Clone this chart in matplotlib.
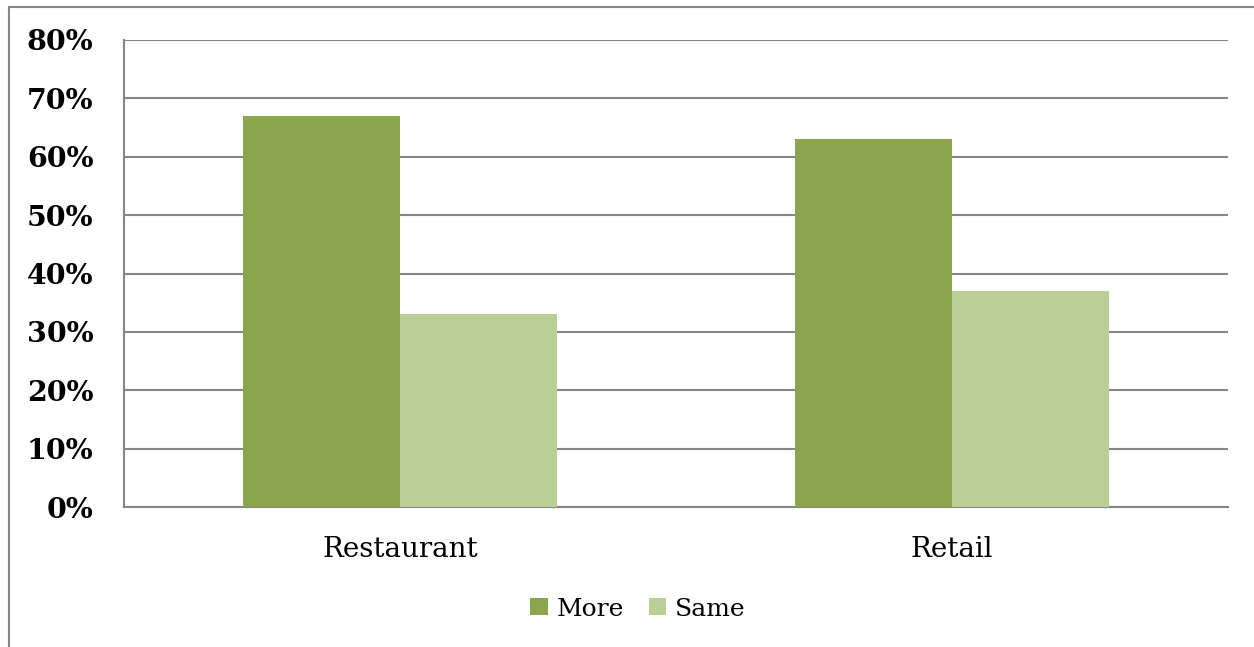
import matplotlib.pyplot as plt
from matplotlib.patches import Rectangle
from matplotlib.ticker import PercentFormatter
import numpy as np

plt.rcParams['font.family'] = ['DejaVu Serif']

# Share of respondents by business type
categories = ['Restaurant', 'Retail']
more = [67, 63]
same = [33, 37]

col_more = '#8AA54C'
col_same = '#BACF96'
grid_col = '#868686'

fig = plt.figure(figsize=(12.54, 6.47), dpi=100)
W, H = 1254, 647

# outer chart frame (runs off the right and bottom edges)
fig.add_artist(Rectangle((9 / W, -0.05), 1.1, 1 - 7 / H + 0.05, transform=fig.transFigure,
                         fill=False, edgecolor=grid_col, linewidth=1.5))

ax = fig.add_axes([124 / W, 1 - 507 / H, (1228 - 124) / W, (507 - 40) / H])

x = np.arange(len(categories))
bw = 0.284
ax.bar(x - bw / 2, more, bw, color=col_more, label='More', zorder=3)
ax.bar(x + bw / 2, same, bw, color=col_same, label='Same', zorder=3)

ax.set_xlim(-0.5, 1.5)
ax.set_ylim(0, 80)
ax.set_yticks(np.arange(0, 81, 10))
ax.yaxis.set_major_formatter(PercentFormatter(decimals=0))
ax.grid(axis='y', color=grid_col, linewidth=1.5, zorder=0)

for side in ['top', 'right']:
    ax.spines[side].set_visible(False)
ax.spines['left'].set_color(grid_col)
ax.spines['left'].set_linewidth(1.5)
ax.spines['bottom'].set_color(grid_col)
ax.spines['bottom'].set_linewidth(1.5)

ax.set_xticks(x)
ax.set_xticklabels(categories, fontsize=20)
ax.tick_params(axis='x', length=0, pad=21)
ax.tick_params(axis='y', length=0, pad=22, labelsize=20.5)
for lbl in ax.get_yticklabels():
    lbl.set_fontweight('bold')

ax.legend(loc='center', bbox_to_anchor=(638 / W, 1 - 609 / H), bbox_transform=fig.transFigure,
          ncol=2, frameon=False, fontsize=18, handlelength=0.69, handleheight=0.69,
          handletextpad=0.36, columnspacing=1.0)

fig.savefig('out.png', dpi=100)
